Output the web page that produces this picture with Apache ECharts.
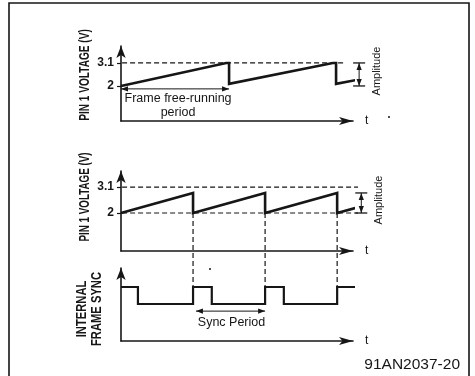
<!DOCTYPE html>
<html>
<head>
<meta charset="utf-8">
<script src="https://cdn.jsdelivr.net/npm/echarts@6/dist/echarts.min.js"></script>
<style>
  html, body { margin: 0; padding: 0; background: #fff; }
  #chart { width: 475px; height: 376px; }
</style>
</head>
<body>
<div id="chart"></div>
<script>
// Time in ms, voltage in V.
// Pin 1 voltage while the frame oscillator is free-running
const freeRunWave = [[0, 2], [29.2, 3.1], [30, 3.1], [30, 2.1], [58.8, 3.1], [59.7, 3.1], [59.7, 2.1], [65.8, 2.3]];
// Pin 1 voltage when reset by the internal frame sync
const syncedWave = [[0, 2], [20, 2.85], [20, 2], [40, 2.85], [40, 2], [60, 2.85], [60, 2], [65, 2.21]];
// Internal frame sync pulses (0 = low, 1 = high)
const syncPulses = [[0, 1], [4.7, 1], [4.7, 0], [20, 0], [20, 1], [25.2, 1], [25.2, 0], [40, 0], [40, 1],
                    [45.2, 1], [45.2, 0], [60, 0], [60, 1], [65.3, 1]];
const syncEdges = [20, 40, 60];
const voltageTicks = [2, 3.1];
const freeRunPeriod = [0, 30];
const syncPeriod = [20.8, 40];
const freeRunAmplitude = [2, 3.1];
const syncedAmplitude = [2, 2.85];

const INK = '#161616';
const SANS = '"Liberation Sans", Arial, sans-serif';

const chart = echarts.init(document.getElementById('chart'), null, { renderer: 'canvas' });

function timeAxis(i) {
  return {
    type: 'value', gridIndex: i, min: 0, max: 64.4,
    axisLine: { show: true, onZero: false, symbol: ['none', 'arrow'], symbolSize: [6, 14],
                lineStyle: { color: INK, width: 1.6 } },
    axisTick: { show: false }, axisLabel: { show: false }, splitLine: { show: false },
    name: 't', nameLocation: 'end', nameGap: 12,
    nameTextStyle: { color: INK, fontFamily: SANS, fontSize: 12, verticalAlign: 'middle' }
  };
}
function levelAxis(i, min, max, ticks) {
  return {
    type: 'value', gridIndex: i, min: min, max: max,
    axisLine: { show: true, onZero: false, symbol: ['none', 'arrow'], symbolSize: [7, 12],
                lineStyle: { color: INK, width: 1.6 } },
    axisTick: { show: !!ticks, customValues: ticks || [], length: 4, lineStyle: { color: INK, width: 1.2 } },
    axisLabel: { show: !!ticks, customValues: ticks || [], margin: 7, color: INK,
                 fontFamily: SANS, fontWeight: 'bold', fontSize: 12 },
    splitLine: { show: false }
  };
}
function wave(i, data, width) {
  return {
    type: 'line', xAxisIndex: i, yAxisIndex: i, data: data, symbol: 'none', clip: false,
    lineStyle: { color: INK, width: width, join: 'miter' }, animation: false, silent: true
  };
}

chart.setOption({
  backgroundColor: '#fff',
  animation: false,
  grid: [
    { left: 121, top: 46, width: 232, height: 75, outerBoundsMode: 'none' },
    { left: 121, top: 171, width: 232, height: 80, outerBoundsMode: 'none' },
    { left: 121, top: 268, width: 232, height: 73, outerBoundsMode: 'none' }
  ],
  xAxis: [timeAxis(0), timeAxis(1), timeAxis(2)],
  yAxis: [
    levelAxis(0, 0.325, 3.91, voltageTicks),
    levelAxis(1, 0.39, 3.78, voltageTicks),
    levelAxis(2, -2.18, 2.12, null)
  ],
  series: [
    wave(0, freeRunWave, 2.6),
    wave(1, syncedWave, 2.6),
    wave(2, syncPulses, 2.2)
  ]
});

// Annotations placed through the axes' own scales
const px = (g, x, y) => chart.convertToPixel({ xAxisIndex: g, yAxisIndex: g }, [x, y]);

function dashed(a, b) {
  return { type: 'line', silent: true, shape: { x1: a[0], y1: a[1], x2: b[0], y2: b[1] },
           style: { stroke: INK, lineWidth: 1.2, lineDash: [5, 3] } };
}
function head(tip, dx, dy) {
  // filled arrowhead pointing along (dx, dy)
  const L = 7, W = 2.6;
  const bx = tip[0] - dx * L, by = tip[1] - dy * L;
  return { type: 'polygon', silent: true,
           shape: { points: [tip, [bx - dy * W, by + dx * W], [bx + dy * W, by - dx * W]] },
           style: { fill: INK } };
}
function hDouble(g, range, level) {
  const a = px(g, range[0], level), b = px(g, range[1], level);
  return [
    { type: 'line', silent: true, shape: { x1: a[0], y1: a[1], x2: b[0], y2: b[1] },
      style: { stroke: INK, lineWidth: 1 } },
    head(a, -1, 0), head(b, 1, 0)
  ];
}
function amplitude(g, t, range, textY) {
  const top = px(g, t, range[1]), bot = px(g, t, range[0]);
  const x = top[0];
  return [
    { type: 'line', silent: true, shape: { x1: x - 6, y1: top[1], x2: x + 6, y2: top[1] }, style: { stroke: INK, lineWidth: 1.3 } },
    { type: 'line', silent: true, shape: { x1: x - 6, y1: bot[1], x2: x + 6, y2: bot[1] }, style: { stroke: INK, lineWidth: 1.3 } },
    { type: 'line', silent: true, shape: { x1: x, y1: top[1], x2: x, y2: bot[1] }, style: { stroke: INK, lineWidth: 1 } },
    head([x, top[1]], 0, -1), head([x, bot[1]], 0, 1),
    { type: 'text', silent: true, x: x + 18, y: textY, rotation: Math.PI / 2,
      style: { text: 'Amplitude', align: 'center', verticalAlign: 'middle', fill: INK, font: '11px ' + SANS } }
  ];
}
// condensed bold titles: the font is squeezed along the reading direction
function yName(x, y, text, squeeze) {
  return { type: 'text', silent: true, x: x, y: y, rotation: Math.PI / 2, scaleX: squeeze,
           style: { text: text, align: 'center', verticalAlign: 'middle', fill: INK,
                    font: 'bold 14px ' + SANS, lineHeight: 15 } };
}
function speck(x, y) {
  return { type: 'circle', silent: true, shape: { cx: x, cy: y, r: 1 }, style: { fill: INK } };
}

const els = [];
// outer frame
els.push({ type: 'rect', silent: true, shape: { x: 9, y: 3, width: 460, height: 420 },
           style: { fill: 'none', stroke: INK, lineWidth: 1.6 } });

// reference levels
els.push(dashed(px(0, 0.3, 3.1), px(0, 61.9, 3.1)));
voltageTicks.forEach(v => els.push(dashed(px(1, 0.3, v), px(1, 65.8, v))));
// sync instants carried down to the sync pulses
syncEdges.forEach(t => els.push(dashed(px(1, t, 2), px(2, t, 1))));

// periods
hDouble(0, freeRunPeriod, 1.86).forEach(e => els.push(e));
const fmid = px(0, (freeRunPeriod[0] + freeRunPeriod[1]) / 2, 1.86);
els.push({ type: 'text', silent: true, x: fmid[0] + 3, y: fmid[1] + 3,
           style: { text: 'Frame free-running\nperiod', align: 'center', verticalAlign: 'top',
                    fill: INK, font: '12.5px ' + SANS, lineHeight: 14 } });
hDouble(2, syncPeriod, -0.42).forEach(e => els.push(e));
const smid = px(2, (syncPeriod[0] + syncPeriod[1]) / 2, -0.42);
els.push({ type: 'text', silent: true, x: smid[0] + 1, y: smid[1] + 5,
           style: { text: 'Sync Period', align: 'center', verticalAlign: 'top', fill: INK, font: '12.5px ' + SANS } });

// amplitude markers
amplitude(0, 66.1, freeRunAmplitude, 71).forEach(e => els.push(e));
amplitude(1, 66.7, syncedAmplitude, 200).forEach(e => els.push(e));

// axis titles
els.push(yName(85, 75, 'PIN 1 VOLTAGE (V)', 0.72));
els.push(yName(85, 197, 'PIN 1 VOLTAGE (V)', 0.7));
els.push(yName(90, 309, 'INTERNAL\nFRAME SYNC', 0.8));

// small printed specks
els.push(speck(389, 117));
els.push(speck(210, 269));

// figure reference
els.push({ type: 'text', silent: true, x: 460, y: 365,
           style: { text: '91AN2037-20', align: 'right', verticalAlign: 'middle', fill: INK, font: '15.5px ' + SANS } });

chart.setOption({ graphic: { elements: els } });
</script>
</body>
</html>
